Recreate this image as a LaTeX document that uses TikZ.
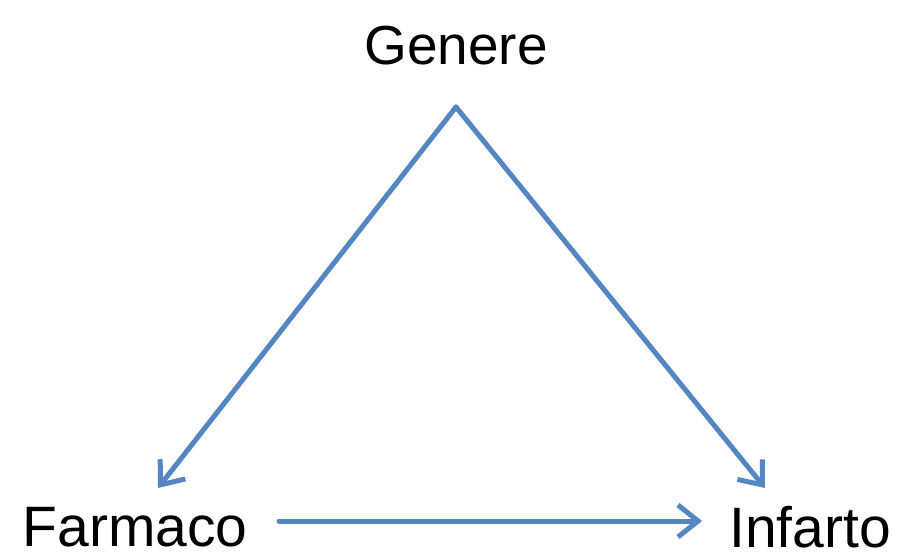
\documentclass[tikz,border=0pt]{standalone}
\usepackage{fontspec}
\setmainfont{Liberation Sans}
\usetikzlibrary{arrows.meta}
\definecolor{linkblue}{RGB}{84,134,194}
\begin{document}
\begin{tikzpicture}[x=1pt,y=1pt,
  label text/.style={inner sep=0pt,anchor=base,font=\fontsize{57}{60}\selectfont},
  link/.style={draw=linkblue,line width=5pt,line cap=round,
    -{Straight Barb[length=20pt,width=32pt,line width=5pt]}}]
  \useasboundingbox (0,0) rectangle (904,558);
  % vertices of the causal triangle
  \node[label text,font=\fontsize{55}{58}\selectfont] (genere) at (456,493) {Genere};
  \node[label text] (farmaco) at (135,12) {Farmaco};
  \node[label text] (infarto) at (810,11) {Infarto};
  % arrow ends
  \coordinate (apex) at (456,451);
  \coordinate (tipF) at (158,70);
  \coordinate (tipI) at (765,70);
  \coordinate (startH) at (279,37);
  \coordinate (tipH) at (702,37);
  \draw[link] (apex) -- (tipF);
  \draw[link] (apex) -- (tipI);
  \draw[link] (startH) -- (tipH);
\end{tikzpicture}
\end{document}
